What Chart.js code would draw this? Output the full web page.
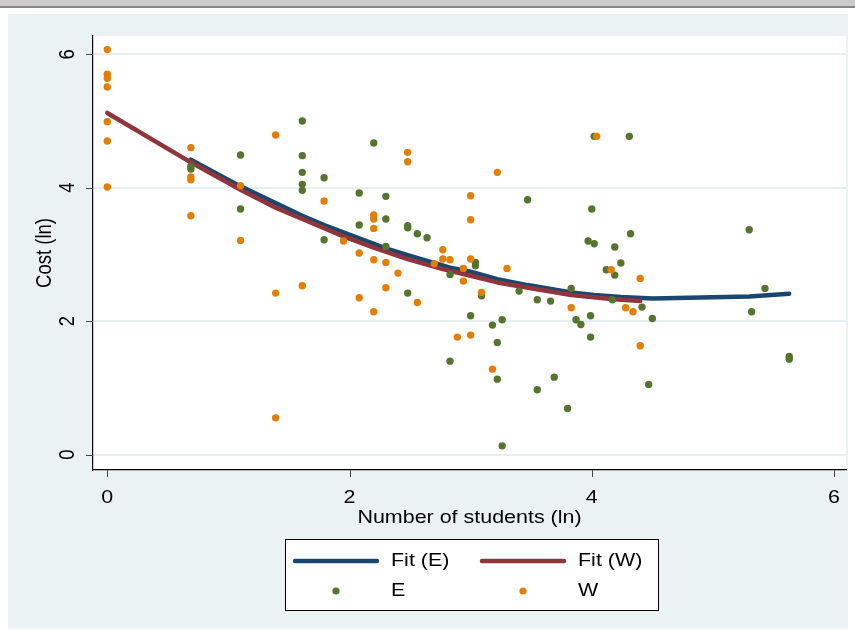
<!DOCTYPE html>
<html>
<head>
<meta charset="utf-8">
<script src="https://cdn.jsdelivr.net/npm/chart.js@4"></script>
<style>
  html, body { margin: 0; padding: 0; background: #fff; }
</style>
</head>
<body>
<canvas id="myChart" width="855" height="630"></canvas>
<script>
// group E (green dots)
const eX = [0.69, 0.69, 1.10, 1.10, 1.61, 1.61, 1.61, 1.61, 1.61, 1.79, 1.79,
  2.08, 2.08, 2.20, 2.30, 2.30, 2.30, 2.48, 2.48, 2.48, 2.56, 2.64, 2.83, 2.83,
  3.00, 3.04, 3.04, 3.09, 3.18, 3.22, 3.22, 3.26, 3.26, 3.40, 3.47, 3.55, 3.55,
  3.66, 3.69, 3.80, 3.83, 3.87, 3.91, 3.97, 3.99, 3.99, 4.00, 4.02, 4.02, 4.12,
  4.17, 4.19, 4.19, 4.24, 4.31, 4.32, 4.415, 4.47, 4.50, 5.30, 5.32, 5.43, 5.63, 5.63];
const eY = [4.32, 4.28, 4.49, 3.68, 5.00, 4.48, 4.23, 4.05, 3.96, 4.15, 3.22,
  3.92, 3.44, 4.67, 3.87, 3.53, 3.12, 3.43, 3.40, 2.42, 3.31, 3.25, 2.70, 1.40,
  2.08, 2.88, 2.83, 2.38, 1.94, 1.68, 1.13, 2.02, 0.13, 2.45, 3.82, 2.32, 0.97,
  2.30, 1.16, 0.69, 2.49, 2.02, 1.95, 3.20, 2.08, 1.76, 3.68, 3.16, 4.77, 2.77,
  2.32, 3.11, 2.69, 2.87, 4.77, 3.31, 2.21, 1.05, 2.04, 3.37, 2.14, 2.49, 1.47, 1.43];

// group W (orange dots)
const wX = [0, 0, 0, 0, 0, 0, 0, 0.69, 0.69, 0.69, 0.69, 1.10, 1.10, 1.39, 1.39, 1.39,
  1.61, 1.79, 1.95, 2.08, 2.08, 2.20, 2.20, 2.20, 2.20, 2.20, 2.30, 2.30, 2.40,
  2.48, 2.48, 2.56, 2.70, 2.77, 2.77, 2.83, 2.89, 2.94, 2.94, 3.00, 3.00, 3.00, 3.00,
  3.09, 3.18, 3.22, 3.30, 3.83, 4.04, 4.16, 4.28, 4.34, 4.40, 4.40];
const wY = [6.07, 5.70, 5.64, 5.51, 4.99, 4.70, 4.01, 4.60, 4.16, 4.12, 3.58, 4.03, 3.21, 4.79, 2.42, 0.55,
  2.53, 3.80, 3.20, 3.02, 2.35, 3.59, 3.53, 3.39, 2.92, 2.14, 2.88, 2.50, 2.72,
  4.53, 4.39, 2.28, 2.86, 3.07, 2.93, 2.92, 1.76, 2.79, 2.60, 3.88, 3.52, 2.93, 1.79,
  2.43, 1.28, 4.23, 2.79, 2.20, 4.77, 2.77, 2.20, 2.14, 2.64, 1.63];

// fitted lines
const fitEX = [0.69, 1.10, 1.61, 1.79, 2.08, 2.30, 2.48, 2.83, 3.00, 3.22, 3.47, 3.83, 4.02, 4.24, 4.50, 5.30, 5.63];
const fitEY = [4.42, 4.02, 3.58, 3.44, 3.24, 3.09, 2.99, 2.80, 2.74, 2.63, 2.54, 2.43, 2.39, 2.36, 2.34, 2.37, 2.41];
const fitWX = [0, 0.69, 1.10, 1.39, 1.61, 1.95, 2.20, 2.48, 2.77, 3.00, 3.22, 3.83, 4.16, 4.40];
const fitWY = [5.12, 4.38, 3.97, 3.70, 3.53, 3.27, 3.10, 2.93, 2.78, 2.68, 2.58, 2.39, 2.33, 2.30];

const xTicks = [0, 2, 4, 6];
const yTicks = [0, 2, 4, 6];
const labels = ["Fit (E)", "Fit (W)", "E", "W"];

const navy = "#1a476f", maroon = "#90353b", green = "#55752f", orange = "#e37e00";
const FONT = '18.5px "Liberation Sans", Arial, sans-serif';
const SX = 1.16; // text in the picture is a bit wide

function toPoints(xs, ys) {
  return xs.map((x, i) => ({ x: x, y: ys[i] }));
}

function wideText(ctx, str, x, y, align, rotated) {
  ctx.save();
  ctx.translate(x, y);
  if (rotated) {
    ctx.rotate(-Math.PI / 2);
    ctx.scale(1, SX);
  } else {
    ctx.scale(SX, 1);
  }
  ctx.font = FONT;
  ctx.fillStyle = "#000";
  ctx.textAlign = align;
  ctx.textBaseline = "middle";
  ctx.fillText(str, 0, 0);
  ctx.restore();
}

const backdrop = {
  id: "backdrop",
  beforeDraw(chart) {
    const ctx = chart.ctx;
    const a = chart.chartArea;
    ctx.save();
    ctx.fillStyle = "#fff";
    ctx.fillRect(0, 0, chart.width, chart.height);
    ctx.fillStyle = "#cccccc";
    ctx.fillRect(0, 0, chart.width, 6);
    ctx.fillStyle = "#858585";
    ctx.fillRect(0, 6, chart.width, 2);
    ctx.fillStyle = "#eaf2f3";
    ctx.fillRect(8, 14, 840, 615);
    ctx.fillStyle = "#fff";
    ctx.fillRect(a.left, a.top, a.right - a.left, a.bottom - a.top);
    ctx.restore();
  },
};

const texts = {
  id: "texts",
  afterDraw(chart) {
    const ctx = chart.ctx;
    const a = chart.chartArea;
    const xs = chart.scales.x, ys = chart.scales.y;

    // tick marks
    ctx.save();
    ctx.strokeStyle = "#444";
    ctx.lineWidth = 1;
    ctx.beginPath();
    xTicks.forEach((v) => {
      const px = Math.round(xs.getPixelForValue(v)) + 0.5;
      ctx.moveTo(px, a.bottom);
      ctx.lineTo(px, a.bottom + 7);
    });
    yTicks.forEach((v) => {
      const py = Math.round(ys.getPixelForValue(v)) + 0.5;
      ctx.moveTo(a.left, py);
      ctx.lineTo(a.left - 7, py);
    });
    ctx.stroke();
    ctx.restore();

    xTicks.forEach((v) => wideText(ctx, String(v), xs.getPixelForValue(v), 498, "center", false));
    yTicks.forEach((v) => wideText(ctx, String(v), 68, ys.getPixelForValue(v), "center", true));
    wideText(ctx, "Number of students (ln)", (a.left + a.right) / 2, 518, "center", false);
    wideText(ctx, "Cost (ln)", 45, (a.top + a.bottom) / 2, "center", true);

    // legend box
    ctx.save();
    ctx.fillStyle = "#fff";
    ctx.fillRect(285.5, 539.5, 373, 71);
    ctx.strokeStyle = "#000";
    ctx.lineWidth = 1;
    ctx.strokeRect(285.5, 539.5, 373, 71);
    ctx.restore();

    const items = [
      { line: true, x1: 295, x2: 377, tx: 391, y: 561 },
      { line: true, x1: 482, x2: 564, tx: 578, y: 561 },
      { line: false, cx: 336, tx: 391, y: 591 },
      { line: false, cx: 523, tx: 578, y: 591 },
    ];
    items.forEach((it, i) => {
      const ds = chart.data.datasets[i];
      ctx.save();
      if (it.line) {
        ctx.strokeStyle = ds.borderColor;
        ctx.lineWidth = 4.5;
        ctx.lineCap = "round";
        ctx.beginPath();
        ctx.moveTo(it.x1, it.y);
        ctx.lineTo(it.x2, it.y);
        ctx.stroke();
      } else {
        ctx.fillStyle = ds.backgroundColor;
        ctx.beginPath();
        ctx.arc(it.cx, it.y, 3.6, 0, Math.PI * 2);
        ctx.fill();
      }
      ctx.restore();
      wideText(ctx, ds.label, it.tx, it.y, "left", false);
    });
  },
};

new Chart("myChart", {
  type: "scatter",
  data: {
    datasets: [
      {
        label: labels[0],
        data: toPoints(fitEX, fitEY),
        showLine: true,
        borderColor: navy,
        borderWidth: 4.5,
        borderCapStyle: "round",
        borderJoinStyle: "round",
        pointRadius: 0,
        order: 3,
      },
      {
        label: labels[1],
        data: toPoints(fitWX, fitWY),
        showLine: true,
        borderColor: maroon,
        borderWidth: 4.5,
        borderCapStyle: "round",
        borderJoinStyle: "round",
        pointRadius: 0,
        order: 2,
      },
      {
        label: labels[2],
        data: toPoints(eX, eY),
        backgroundColor: green,
        pointRadius: 3.7,
        pointBorderWidth: 0,
        order: 1,
      },
      {
        label: labels[3],
        data: toPoints(wX, wY),
        backgroundColor: orange,
        pointRadius: 3.7,
        pointBorderWidth: 0,
        order: 0,
      },
    ],
  },
  options: {
    responsive: false,
    animation: false,
    layout: { padding: { left: 0, top: 36, right: 9, bottom: 0 } },
    plugins: {
      legend: { display: false },
      tooltip: { enabled: false },
    },
    scales: {
      x: {
        type: "linear",
        min: -0.118,
        max: 6.099,
        afterBuildTicks: (s) => { s.ticks = xTicks.map((v) => ({ value: v })); },
        afterFit: (s) => { s.height = 160; },
        ticks: { display: false },
        grid: { display: false },
        border: { display: true, color: "#000", width: 1.2 },
      },
      y: {
        type: "linear",
        min: -0.232,
        max: 6.274,
        afterBuildTicks: (s) => { s.ticks = yTicks.map((v) => ({ value: v })); },
        afterFit: (s) => { s.width = 93; },
        ticks: { display: false },
        grid: { color: "#e6eef0", lineWidth: 2, drawTicks: false },
        border: { display: true, color: "#000", width: 1.2 },
      },
    },
  },
  plugins: [backdrop, texts],
});
</script>
</body>
</html>
